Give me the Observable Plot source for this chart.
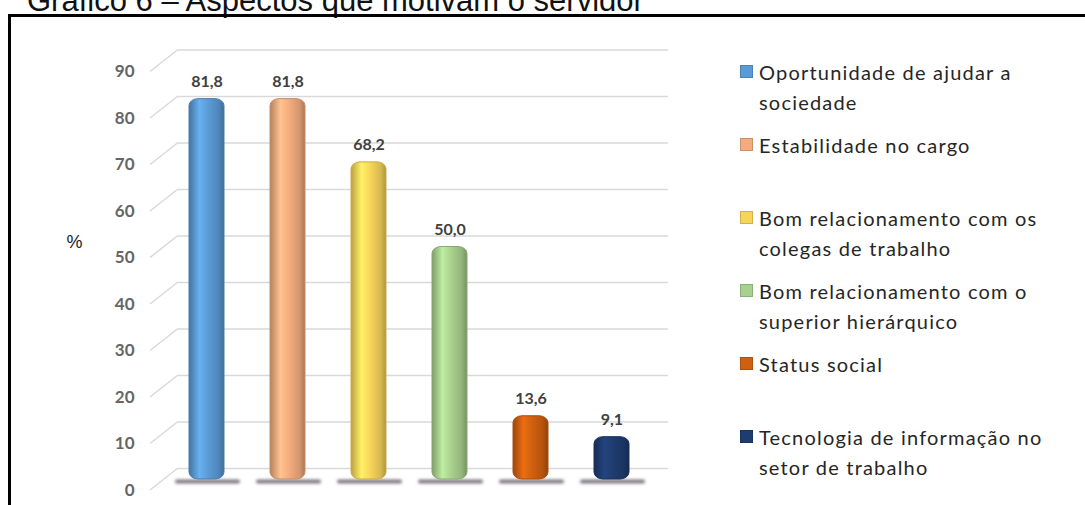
<!DOCTYPE html>
<html><head><meta charset="utf-8">
<script src="https://cdn.jsdelivr.net/npm/d3@7"></script>
<script src="https://cdn.jsdelivr.net/npm/@observablehq/plot@0.6"></script>
<style>
html,body{margin:0;padding:0;background:#fff;}
body{width:1085px;height:505px;overflow:hidden;position:relative;font-family:Lato,sans-serif;}
#title{position:absolute;left:27px;top:-15px;font-family:"Liberation Sans",Arial,sans-serif;font-size:31px;line-height:31px;color:#111;white-space:nowrap;}
#frame{position:absolute;left:8px;top:14px;width:1100px;height:540px;border:3px solid #000;box-sizing:border-box;pointer-events:none;z-index:5;}
#chart{position:absolute;left:0;top:0;}
#legend{position:absolute;left:740px;top:57px;}
.item{height:73px;display:flex;align-items:flex-start;}
.sw{width:13px;height:13px;margin-top:8px;margin-right:6px;flex:none;box-sizing:border-box;}
.lab{font-size:20px;line-height:30px;letter-spacing:1.2px;color:#262626;white-space:pre-line;}
</style></head>
<body>
<div id="title">Gráfico 6 – Aspectos que motivam o servidor</div>
<div id="chart"></div>
<div id="legend"></div>
<div id="frame"></div>
<script>
const categories = [
  "Oportunidade de ajudar a\nsociedade",
  "Estabilidade no cargo",
  "Bom relacionamento com os\ncolegas de trabalho",
  "Bom relacionamento com o\nsuperior hierárquico",
  "Status social",
  "Tecnologia de informação no\nsetor de trabalho"
];
const values = [81.8, 81.8, 68.2, 50.0, 13.6, 9.1];
const colors = ["#5b9bd5", "#f4ac7e", "#f7d55a", "#a9d18e", "#d0600f", "#1f3c70"];
const yTicks = [0, 10, 20, 30, 40, 50, 60, 70, 80, 90];
const yLabel = "%";

const data = categories.map((c, i) => ({cat: c, value: values[i], color: colors[i], gid: "g" + i}));
const fmt = v => v.toFixed(1).replace(".", ",");

const NS = "http://www.w3.org/2000/svg";
function defsMark() {
  const g = document.createElementNS(NS, "g");
  const defs = document.createElementNS(NS, "defs");
  data.forEach(d => {
    const lg = document.createElementNS(NS, "linearGradient");
    lg.setAttribute("id", d.gid);
    lg.setAttribute("x1", "0"); lg.setAttribute("x2", "1");
    lg.setAttribute("y1", "0"); lg.setAttribute("y2", "0");
    const c = d3.color(d.color);
    const stops = [[0, c.darker(0.8)], [0.3, c.brighter(0.35)], [0.55, c], [0.85, c.darker(0.4)], [1, c.darker(1)]];
    stops.forEach(([o, col]) => {
      const s = document.createElementNS(NS, "stop");
      s.setAttribute("offset", o);
      s.setAttribute("stop-color", col.formatHex());
      lg.appendChild(s);
    });
    defs.appendChild(lg);
  });
  const f = document.createElementNS(NS, "filter");
  f.setAttribute("id", "blur");
  f.setAttribute("filterUnits", "userSpaceOnUse");
  f.setAttribute("x", "0"); f.setAttribute("y", "0");
  f.setAttribute("width", "800"); f.setAttribute("height", "600");
  const gb = document.createElementNS(NS, "feGaussianBlur");
  gb.setAttribute("stdDeviation", "1.5");
  f.appendChild(gb);
  defs.appendChild(f);
  g.appendChild(defs);
  return g;
}

function connectors(index, scales) {
  const g = document.createElementNS(NS, "g");
  yTicks.forEach(t => {
    const y = scales.y(t);
    const p = document.createElementNS(NS, "line");
    p.setAttribute("x1", 150); p.setAttribute("y1", y + 11);
    p.setAttribute("x2", 178); p.setAttribute("y2", y - 11);
    p.setAttribute("stroke", "#d9d9d9");
    p.setAttribute("stroke-width", 1.5);
    g.appendChild(p);
  });
  return g;
}

const chart = Plot.plot({
  width: 720,
  height: 505,
  marginLeft: 141,
  marginRight: 43,
  marginTop: 60.5,
  marginBottom: 26,
  style: {background: "transparent", overflow: "visible"},
  x: {domain: categories, padding: 0.57, axis: null},
  y: {domain: [0, 90], axis: null},
  color: {type: "identity"},
  marks: [
    defsMark,
    Plot.ruleY(yTicks, {stroke: "#d9d9d9", strokeWidth: 1.5, insetLeft: 37, insetRight: 9, dy: -11}),
    connectors,
    Plot.axisY({ticks: yTicks, tickSize: 0, tickPadding: 7, dy: 11, fontSize: 17, fontWeight: "bold", fill: "#666", tickFormat: d => d, label: null, fontFamily: "Lato"}),
    Plot.text([yLabel], {text: d => d, frameAnchor: "left", dx: -75, dy: -28, fontSize: 18, fill: "#222", fontFamily: "Liberation Sans"}),
    Plot.tickY(data, {x: "cat", y: 0, stroke: "#3a3340", strokeWidth: 4, strokeOpacity: 0.65, insetLeft: -12, insetRight: -14, dy: 2, strokeLinecap: "round"}),
    Plot.barY(data, {x: "cat", y: "value", fill: d => `url(#${d.gid})`, stroke: d => d3.color(d.color).darker(0.6).formatHex(), strokeWidth: 1, rx: 9, ry: 7}),
    Plot.text(data, {x: "cat", y: "value", text: d => fmt(d.value), dy: -17, fontSize: 16, fontWeight: "bold", fill: "#404040", fontFamily: "Lato"})
  ]
});
chart.querySelectorAll("g[aria-label='tick']").forEach(g => g.setAttribute("filter", "url(#blur)"));
document.getElementById("chart").appendChild(chart);

const legend = document.getElementById("legend");
data.forEach(d => {
  const it = document.createElement("div");
  it.className = "item";
  const sw = document.createElement("div");
  sw.className = "sw";
  sw.style.background = d.color;
  sw.style.border = "1px solid " + d3.color(d.color).darker(0.5).formatHex();
  const lab = document.createElement("div");
  lab.className = "lab";
  lab.textContent = d.cat;
  it.appendChild(sw); it.appendChild(lab);
  legend.appendChild(it);
});
</script>
</body></html>
